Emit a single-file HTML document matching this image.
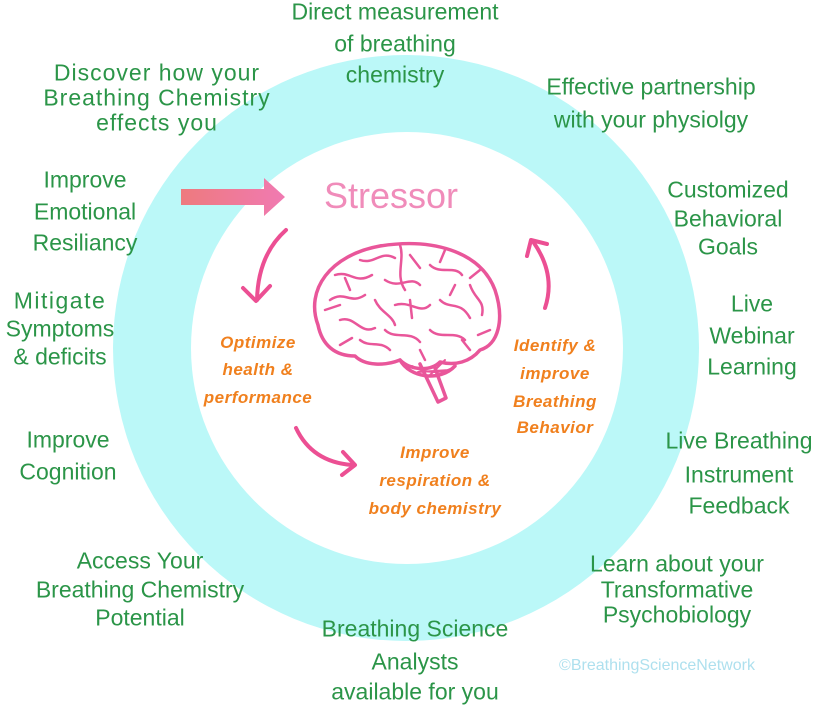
<!DOCTYPE html>
<html><head><meta charset="utf-8"><style>
html,body{margin:0;padding:0;background:#fff;}
body{width:813px;height:708px;position:relative;overflow:hidden;font-family:"Liberation Sans",sans-serif;}
.t{position:absolute;text-align:center;color:#2b9548;font-size:23px;white-space:nowrap;transform:translateX(-50%);}
.t div{height:0;position:relative;}
.t span{position:absolute;left:50%;transform:translate(-50%,-50%);}
.o{color:#f0801e;font-style:italic;font-weight:bold;font-size:17px;font-family:"Liberation Sans",sans-serif;letter-spacing:0.5px}
</style></head><body>
<svg width="813" height="708" style="position:absolute;left:0;top:0">
<defs><linearGradient id="g" x1="0" x2="1"><stop offset="0" stop-color="#ee7a7e"/><stop offset="1" stop-color="#f07ab2"/></linearGradient></defs>
<circle cx="406" cy="348" r="293" fill="#bbf8f8"/>
<circle cx="407" cy="348" r="216" fill="#fff"/>
<path d="M181 189 H264 V178 L285 197 L264 216 V205 H181 Z" fill="url(#g)"/>
<g fill="none" stroke="#ec4f93" stroke-width="4" stroke-linecap="round" stroke-linejoin="round">
<path d="M286 230 Q258 255 257 300"/><path d="M243 288 L256 301 L270 286"/>
<path d="M296 428 Q312 462 352 465"/><path d="M343 452 L355 465 L342 475"/>
<path d="M545 308 Q556 275 534 243"/><path d="M527 256 L531 240 L547 244"/>
</g>
<g fill="none" stroke="#e9569a" stroke-width="3.5" stroke-linejoin="round" stroke-linecap="round">
<path d="M318 325 C305 290 330 255 380 246 C430 238 480 250 495 290 C505 320 498 345 480 350 C470 362 455 366 440 362 C430 372 410 370 400 360 C385 366 365 366 355 356 C335 356 322 345 318 325 Z"/>
<path d="M420 364 L438 402 L446 398 L435 368"/>
<path d="M400 360 C410 378 440 382 455 366"/>
</g>
<g fill="none" stroke="#e9569a" stroke-width="2.5" stroke-linejoin="round" stroke-linecap="round">
<path d="M330 300 C345 290 350 305 365 295 M335 275 C350 270 355 285 372 275 M360 260 C375 265 380 250 395 258 M385 280 C400 290 410 275 420 285 M430 265 C440 275 455 265 462 275 M470 285 C475 300 485 300 482 315 M440 300 C450 310 460 300 470 318 M395 305 C410 300 420 315 430 305 M340 320 C355 315 360 335 375 328 M385 330 C395 340 410 330 420 342 M430 330 C440 340 455 330 465 340 M400 245 C405 260 395 275 405 290 M360 340 C370 348 380 340 390 350 M325 310 L340 305 M350 290 L345 278 M375 300 C380 312 392 315 395 325 M410 255 L420 268 M445 250 L440 262 M480 270 L470 278 M455 285 L450 295 M490 330 L478 335 M410 300 L412 318 M340 345 L352 338 M470 350 L462 340 M420 350 L425 360"/>
<path d="M412 366 C425 374 445 374 455 366 M418 372 L450 370 M430 375 L445 360" stroke-width="2"/>
</g>
</svg>
<div class="t" style="left:395px;top:0"><div style="top:12px"><span>Direct measurement</span></div><div style="top:44px"><span>of breathing</span></div><div style="top:75px"><span>chemistry</span></div></div>
<div class="t" style="left:157px;top:0;letter-spacing:1px"><div style="top:73px"><span>Discover how your</span></div><div style="top:98px"><span>Breathing Chemistry</span></div><div style="top:123px"><span>effects you</span></div></div>
<div class="t" style="left:651px;top:0"><div style="top:87px"><span>Effective partnership</span></div><div style="top:120px"><span>with your physiolgy</span></div></div>
<div class="t" style="left:85px;top:0"><div style="top:180px"><span>Improve</span></div><div style="top:212px"><span>Emotional</span></div><div style="top:243px"><span>Resiliancy</span></div></div>
<div class="t" style="left:728px;top:0"><div style="top:190px"><span>Customized</span></div><div style="top:219px"><span>Behavioral</span></div><div style="top:247px"><span>Goals</span></div></div>
<div class="t" style="left:60px;top:0"><div style="top:301px"><span style="letter-spacing:1.5px">Mitigate</span></div><div style="top:329px"><span>Symptoms</span></div><div style="top:357px"><span>&amp; deficits</span></div></div>
<div class="t" style="left:752px;top:0"><div style="top:304px"><span>Live</span></div><div style="top:336px"><span>Webinar</span></div><div style="top:367px"><span>Learning</span></div></div>
<div class="t" style="left:68px;top:0"><div style="top:440px"><span>Improve</span></div><div style="top:472px"><span>Cognition</span></div></div>
<div class="t" style="left:739px;top:0"><div style="top:441px"><span>Live Breathing</span></div><div style="top:475px"><span>Instrument</span></div><div style="top:506px"><span>Feedback</span></div></div>
<div class="t" style="left:140px;top:0"><div style="top:561px"><span>Access Your</span></div><div style="top:590px"><span>Breathing Chemistry</span></div><div style="top:618px"><span>Potential</span></div></div>
<div class="t" style="left:677px;top:0"><div style="top:564px"><span>Learn about your</span></div><div style="top:590px"><span>Transformative</span></div><div style="top:615px"><span>Psychobiology</span></div></div>
<div class="t" style="left:415px;top:0"><div style="top:629px"><span>Breathing Science</span></div><div style="top:662px"><span>Analysts</span></div><div style="top:692px"><span>available for you</span></div></div>
<div class="t" style="left:657px;top:0;color:#aee0ee;font-size:16px"><div style="top:666px"><span>©BreathingScienceNetwork</span></div></div>
<div class="t" style="left:391px;top:0;color:#f08cba;font-size:36px"><div style="top:196px"><span>Stressor</span></div></div>
<div class="t o" style="left:258px;top:0"><div style="top:343px"><span>Optimize</span></div><div style="top:370px"><span>health &amp;</span></div><div style="top:398px"><span>performance</span></div></div>
<div class="t o" style="left:555px;top:0"><div style="top:346px"><span>Identify &amp;</span></div><div style="top:374px"><span>improve</span></div><div style="top:402px"><span>Breathing</span></div><div style="top:428px"><span>Behavior</span></div></div>
<div class="t o" style="left:435px;top:0"><div style="top:453px"><span>Improve</span></div><div style="top:481px"><span>respiration &amp;</span></div><div style="top:509px"><span>body chemistry</span></div></div>
</body></html>
